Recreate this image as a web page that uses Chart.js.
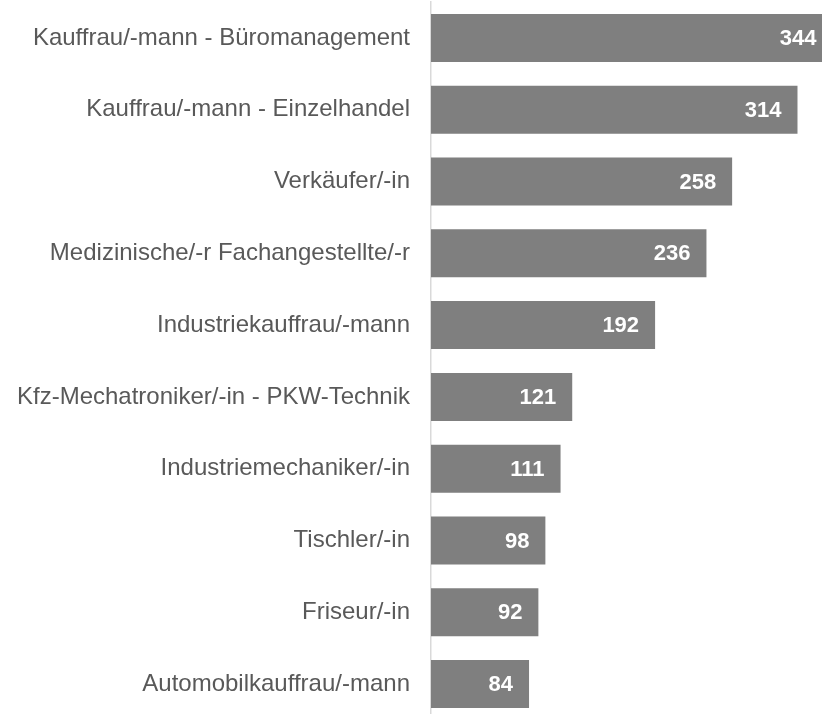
<!DOCTYPE html>
<html>
<head>
<meta charset="utf-8">
<script src="https://cdn.jsdelivr.net/npm/chart.js@4"></script>
<style>
  html, body { margin: 0; padding: 0; background: #fff; overflow: hidden; }
  #wrap { width: 822px; height: 720px; position: relative; }
</style>
</head>
<body>
<div id="wrap"><canvas id="chart"></canvas></div>
<script>
// categories and values, top to bottom
const berufe = [
  'Kauffrau/-mann - Büromanagement',
  'Kauffrau/-mann - Einzelhandel',
  'Verkäufer/-in',
  'Medizinische/-r Fachangestellte/-r',
  'Industriekauffrau/-mann',
  'Kfz-Mechatroniker/-in - PKW-Technik',
  'Industriemechaniker/-in',
  'Tischler/-in',
  'Friseur/-in',
  'Automobilkauffrau/-mann'
];
const anzahl = [344, 314, 258, 236, 192, 121, 111, 98, 92, 84];

// white numbers inside the bar ends
const valueLabels = {
  id: 'valueLabels',
  afterDatasetsDraw(chart) {
    const ctx = chart.ctx;
    const meta = chart.getDatasetMeta(0);
    ctx.save();
    ctx.fillStyle = '#ffffff';
    ctx.font = 'bold 22px "Liberation Sans", Arial, sans-serif';
    ctx.textAlign = 'right';
    ctx.textBaseline = 'middle';
    meta.data.forEach((bar, i) => {
      ctx.fillText(String(anzahl[i]), bar.x - 16, bar.y + 1);
    });
    ctx.restore();
  }
};

new Chart(document.getElementById('chart'), {
  type: 'bar',
  data: {
    labels: berufe,
    datasets: [{
      data: anzahl,
      backgroundColor: '#7f7f7f',
      borderWidth: 0,
      barPercentage: 0.668,
      categoryPercentage: 1
    }]
  },
  options: {
    indexAxis: 'y',
    responsive: true,
    maintainAspectRatio: false,
    animation: false,
    layout: { padding: { top: 2, bottom: 0, left: 0, right: 0 } },
    plugins: { legend: { display: false }, tooltip: { enabled: false } },
    scales: {
      x: { display: false, min: 0, max: 335 },
      y: {
        grid: { display: false, drawTicks: false },
        border: { display: true, color: '#d9d9d9', width: 1.5 },
        ticks: {
          color: '#595959',
          font: { family: '"Liberation Sans", Arial, sans-serif', size: 24 },
          padding: 21
        },
        afterFit(scale) {
          scale.width = 431;
          scale.paddingTop = 0;
          scale.paddingBottom = 0;
        }
      }
    }
  },
  plugins: [valueLabels]
});
</script>
</body>
</html>
